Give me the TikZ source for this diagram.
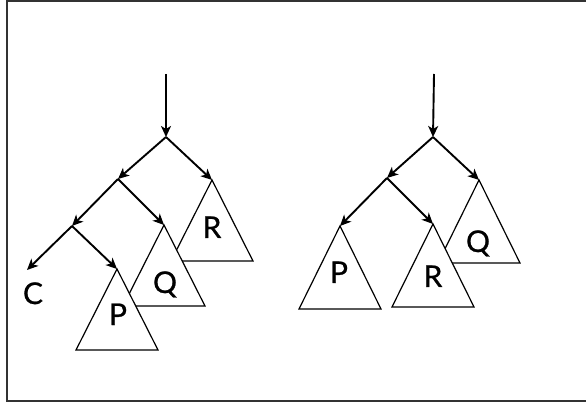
\documentclass[tikz,border=0pt]{standalone}
\usepackage{fontspec}
\setmainfont{Lato}[FakeBold=0.8]
\usetikzlibrary{arrows.meta}
\colorlet{frm}{black!80}

\begin{document}
\begin{tikzpicture}[x=1pt,y=-1pt,
    edge/.style={-{Stealth[length=11pt,width=10pt,inset=3pt]},line width=1.9pt},
    subtree/.style={draw,fill=white,line width=1.2pt},
    lbl/.style={anchor=base,font=\fontsize{30}{30}\selectfont}]
    \useasboundingbox (0,0) rectangle (586,403);
    \draw [frm,line width=1.6pt] (586,1) -- (7,1) -- (7,401) -- (586,401);

    % left tree
    \coordinate (lt) at (166,74);
    \coordinate (l0) at (166,137);
    \coordinate (l1) at (118,179);
    \coordinate (l2) at (72,226);
    \coordinate (lc) at (27,270);
    \coordinate (lR) at (212,180);
    \coordinate (lQ) at (164,225);
    \coordinate (lP) at (117,269);
    \foreach \t in {lR,lQ,lP} {
        \draw [subtree] (\t) -- ++(41,81) -- ++(-82,0) -- cycle;
    }
    \node [lbl] (lRl) at (212,238) {R};
    \node [lbl] (lQl) at (165,293) {Q};
    \node [lbl] (lPl) at (118,325) {P};
    \node [lbl] (C) at (33,304) {C};
    \draw [edge] (lt) -- (l0);
    \draw [edge] (l0) -- (l1);
    \draw [edge] (l0) -- (lR);
    \draw [edge] (l1) -- (l2);
    \draw [edge] (l1) -- (lQ);
    \draw [edge] (l2) -- (lc);
    \draw [edge] (l2) -- (lP);

    % right tree
    \coordinate (rt) at (434,74);
    \coordinate (r0) at (433,137);
    \coordinate (r1) at (387,178);
    \coordinate (rQ) at (479,180);
    \coordinate (rP) at (340,226);
    \coordinate (rR) at (433,224);
    \draw [subtree] (rQ) -- ++(41,83) -- ++(-82,0) -- cycle;
    \foreach \t in {rP,rR} {
        \draw [subtree] (\t) -- ++(41,83) -- ++(-82,0) -- cycle;
    }
    \node [lbl] (rQl) at (478,252) {Q};
    \node [lbl] (rPl) at (339,283) {P};
    \node [lbl] (rRl) at (433,287) {R};
    \draw [edge] (rt) -- (r0);
    \draw [edge] (r0) -- (r1);
    \draw [edge] (r0) -- (rQ);
    \draw [edge] (r1) -- (rP);
    \draw [edge] (r1) -- (rR);
\end{tikzpicture}
\end{document}
